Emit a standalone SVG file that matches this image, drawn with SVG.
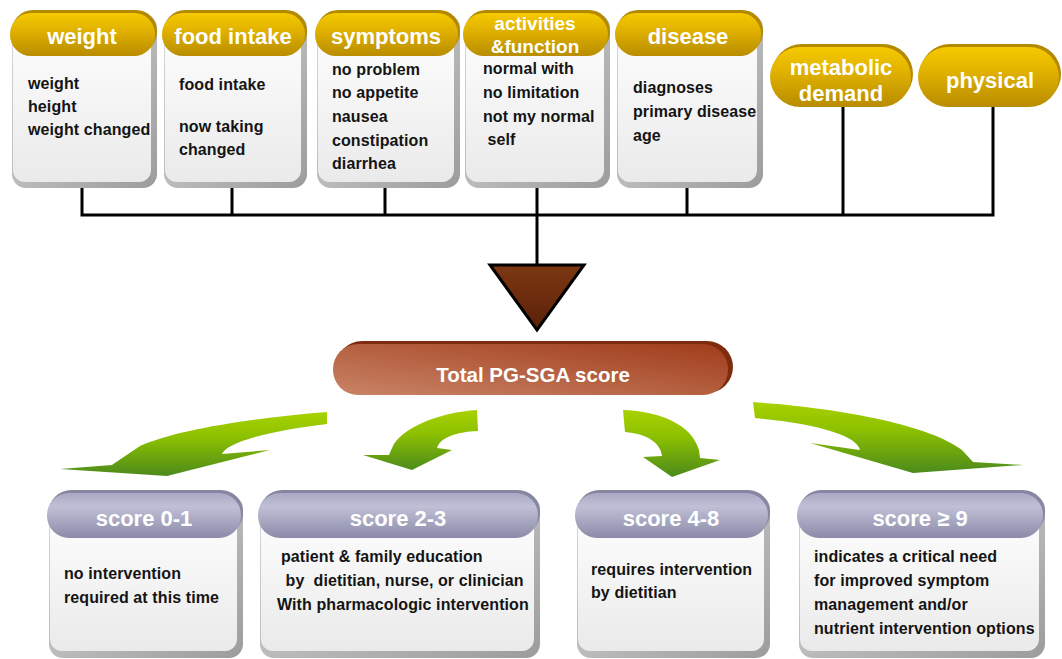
<svg xmlns="http://www.w3.org/2000/svg" width="1062" height="659" viewBox="0 0 1062 659">
<defs>
  <linearGradient id="gold" x1="0" y1="0" x2="0" y2="1">
    <stop offset="0" stop-color="#F6CA00"/>
    <stop offset="0.45" stop-color="#DEAF00"/>
    <stop offset="1" stop-color="#B88C00"/>
  </linearGradient>
  <linearGradient id="card" x1="0" y1="0" x2="0" y2="1">
    <stop offset="0" stop-color="#FFFFFF"/>
    <stop offset="1" stop-color="#EAEAEA"/>
  </linearGradient>
  <linearGradient id="shade" x1="0" y1="0" x2="1" y2="1">
    <stop offset="0" stop-color="#DADADA"/>
    <stop offset="1" stop-color="#9C9C9C"/>
  </linearGradient>
  <linearGradient id="lav" x1="0" y1="0" x2="0" y2="1">
    <stop offset="0" stop-color="#A9A9C3"/>
    <stop offset="0.3" stop-color="#BFBFD6"/>
    <stop offset="1" stop-color="#8B8BA9"/>
  </linearGradient>
  <linearGradient id="brown" x1="0" y1="1" x2="1" y2="0">
    <stop offset="0" stop-color="#C98467"/>
    <stop offset="1" stop-color="#A03C1A"/>
  </linearGradient>
  <linearGradient id="tri" x1="0" y1="0" x2="0" y2="1">
    <stop offset="0" stop-color="#7E3813"/>
    <stop offset="1" stop-color="#5A2008"/>
  </linearGradient>
  <linearGradient id="green" x1="0" y1="0" x2="0" y2="1">
    <stop offset="0" stop-color="#A8D200"/>
    <stop offset="0.4" stop-color="#8CC000"/>
    <stop offset="1" stop-color="#4C8A1C"/>
  </linearGradient>
</defs>
<style>
  .sh{fill:url(#shade)}
  .cd{fill:url(#card)}
  .hb{fill:#B38900}
  .hf{fill:url(#gold)}
  .lb{fill:#8686A3}
  .lf{fill:url(#lav)}
  .hd{font-family:"Liberation Sans",Arial,sans-serif;font-weight:bold;fill:#FFFFFF;text-anchor:middle;font-size:22px}
  .bd{font-family:"Liberation Sans",Arial,sans-serif;font-weight:bold;font-size:16px;fill:#141414;letter-spacing:0.1px}
  .ln{stroke:#000;stroke-width:3;fill:none;stroke-linecap:square}
  .ar{fill:url(#green)}
</style>
<rect width="1062" height="659" fill="#FFFFFF"/>

<g id="connectors">
  <path class="ln" d="M82,188 V215 M232,188 V215 M385,188 V215 M687,188 V215 M843,107 V215 M993,107 V215 M82,215 H993 M537,182 V264"/>
  <polygon points="490,265 584,265 537,330" fill="url(#tri)" stroke="#000" stroke-width="3"/>
  <path class="ar" d="M327,412 C250,418 175,430 140,446 C128,454 118,461 112,465 L60,469 L167,476 L270,450 L222,454 C226,444 260,432 327,424 Z"/>
  <path class="ar" d="M477,410 C440,412 400,428 392,448 L389,455 L363,455 L412,470 L452,450 L437,448 C440,438 455,432 478,431 Z"/>
  <path class="ar" d="M623,410 C660,411 692,425 699,450 L700,458 L720,460 L672,477 L643,457 L662,456 C661,445 650,434 625,432 Z"/>
  <path class="ar" d="M753,402 C840,408 930,425 962,450 L973,462 L1023,465 L913,473 L810,443 L860,450 C857,436 820,424 755,418 Z"/>
</g>

<g id="weight">
  <rect class="sh" x="12" y="14" width="145" height="174" rx="14"/>
  <rect class="cd" x="13" y="16" width="138" height="166" rx="12"/>
  <rect class="hb" x="12" y="10" width="145" height="43" rx="21"/>
  <rect class="hf" x="10" y="13" width="145" height="43" rx="21"/>
  <text class="hd" x="82" y="44">weight</text>
  <text class="bd" x="28" y="89">weight</text>
  <text class="bd" x="28" y="112">height</text>
  <text class="bd" x="28" y="135">weight changed</text>
</g>

<g id="food-intake">
  <rect class="sh" x="164" y="14" width="143" height="174" rx="14"/>
  <rect class="cd" x="165" y="16" width="136" height="166" rx="12"/>
  <rect class="hb" x="164" y="10" width="143" height="43" rx="21"/>
  <rect class="hf" x="162" y="13" width="143" height="43" rx="21"/>
  <text class="hd" x="233" y="44">food intake</text>
  <text class="bd" x="179" y="90">food intake</text>
  <text class="bd" x="179" y="132">now taking</text>
  <text class="bd" x="179" y="155">changed</text>
</g>

<g id="symptoms">
  <rect class="sh" x="317" y="14" width="143" height="174" rx="14"/>
  <rect class="cd" x="318" y="16" width="136" height="166" rx="12"/>
  <rect class="hb" x="317" y="10" width="143" height="43" rx="21"/>
  <rect class="hf" x="315" y="13" width="143" height="43" rx="21"/>
  <text class="hd" x="386" y="44">symptoms</text>
  <text class="bd" x="332" y="75">no problem</text>
  <text class="bd" x="332" y="98">no appetite</text>
  <text class="bd" x="332" y="122">nausea</text>
  <text class="bd" x="332" y="146">constipation</text>
  <text class="bd" x="332" y="169">diarrhea</text>
</g>

<g id="activities-function">
  <rect class="sh" x="465" y="14" width="145" height="174" rx="14"/>
  <rect class="cd" x="466" y="16" width="138" height="166" rx="12"/>
  <rect class="hb" x="465" y="10" width="145" height="43" rx="21"/>
  <rect class="hf" x="463" y="13" width="145" height="43" rx="21"/>
  <text class="hd" x="535" y="30" style="font-size:19px">activities</text>
  <text class="hd" x="535" y="53" style="font-size:19px">&amp;function</text>
  <text class="bd" x="483" y="74">normal with</text>
  <text class="bd" x="483" y="98">no limitation</text>
  <text class="bd" x="483" y="122">not my normal</text>
  <text class="bd" x="483" y="145" xml:space="preserve"> self</text>
</g>

<g id="disease">
  <rect class="sh" x="617" y="14" width="146" height="174" rx="14"/>
  <rect class="cd" x="618" y="16" width="139" height="166" rx="12"/>
  <rect class="hb" x="617" y="10" width="146" height="43" rx="21"/>
  <rect class="hf" x="615" y="13" width="146" height="43" rx="21"/>
  <text class="hd" x="688" y="44">disease</text>
  <text class="bd" x="633" y="93">diagnoses</text>
  <text class="bd" x="633" y="117">primary disease</text>
  <text class="bd" x="633" y="141">age</text>
</g>

<g id="metabolic-demand">
  <rect class="hb" x="772" y="44" width="141" height="60" rx="30"/>
  <rect class="hf" x="770" y="47" width="141" height="60" rx="30"/>
  <text class="hd" x="841" y="75">metabolic</text>
  <text class="hd" x="841" y="101">demand</text>
</g>

<g id="physical">
  <rect class="hb" x="920" y="44" width="141" height="60" rx="30"/>
  <rect class="hf" x="918" y="47" width="141" height="60" rx="30"/>
  <text class="hd" x="990" y="88">physical</text>
</g>

<g id="total-score">
  <rect x="336" y="341" width="397" height="52" rx="26" fill="#7E2C0E"/>
  <rect x="333" y="344" width="395" height="51" rx="25" fill="url(#brown)"/>
  <text class="hd" x="533" y="382" style="font-size:20.5px">Total PG-SGA score</text>
</g>

<g id="score-0-1">
  <rect class="sh" x="49" y="495" width="194" height="163" rx="14"/>
  <rect class="cd" x="50" y="500" width="187" height="151" rx="12"/>
  <rect class="lb" x="49" y="490" width="194" height="45" rx="22"/>
  <rect class="lf" x="47" y="493" width="194" height="45" rx="22"/>
  <text class="hd" x="144" y="526">score 0-1</text>
  <text class="bd" x="64" y="579">no intervention</text>
  <text class="bd" x="64" y="603">required at this time</text>
</g>

<g id="score-2-3">
  <rect class="sh" x="260" y="495" width="280" height="163" rx="14"/>
  <rect class="cd" x="261" y="500" width="273" height="151" rx="12"/>
  <rect class="lb" x="260" y="490" width="280" height="45" rx="22"/>
  <rect class="lf" x="258" y="493" width="280" height="45" rx="22"/>
  <text class="hd" x="398" y="526">score 2-3</text>
  <text class="bd" x="281" y="562">patient &amp; family education</text>
  <text class="bd" x="281" y="586" xml:space="preserve"> by  dietitian, nurse, or clinician</text>
  <text class="bd" x="277" y="610">With pharmacologic intervention</text>
</g>

<g id="score-4-8">
  <rect class="sh" x="577" y="495" width="193" height="163" rx="14"/>
  <rect class="cd" x="578" y="500" width="186" height="151" rx="12"/>
  <rect class="lb" x="577" y="490" width="193" height="45" rx="22"/>
  <rect class="lf" x="575" y="493" width="193" height="45" rx="22"/>
  <text class="hd" x="671" y="526">score 4-8</text>
  <text class="bd" x="591" y="575">requires intervention</text>
  <text class="bd" x="591" y="598">by dietitian</text>
</g>

<g id="score-9-plus">
  <rect class="sh" x="799" y="495" width="246" height="163" rx="14"/>
  <rect class="cd" x="800" y="500" width="239" height="151" rx="12"/>
  <rect class="lb" x="799" y="490" width="246" height="45" rx="22"/>
  <rect class="lf" x="797" y="493" width="246" height="45" rx="22"/>
  <text class="hd" x="920" y="526">score ≥ 9</text>
  <text class="bd" x="814" y="562">indicates a critical need</text>
  <text class="bd" x="814" y="586">for improved symptom</text>
  <text class="bd" x="814" y="610">management and/or</text>
  <text class="bd" x="814" y="634">nutrient intervention options</text>
</g>
</svg>
